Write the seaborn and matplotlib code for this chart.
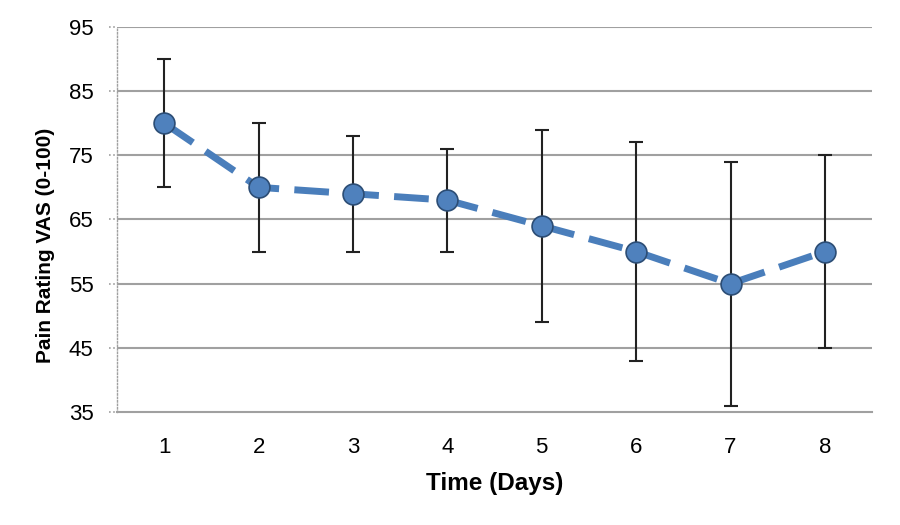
import matplotlib
matplotlib.use("Agg")
import matplotlib.pyplot as plt
import seaborn as sns
import numpy as np
import pandas as pd

days = [1, 2, 3, 4, 5, 6, 7, 8]
pain_mean = [80, 70, 69, 68, 64, 60, 55, 60]
pain_low = [70, 60, 60, 60, 49, 43, 36, 45]
pain_high = [90, 80, 78, 76, 79, 77, 74, 75]
y_ticks = [35, 45, 55, 65, 75, 85, 95]

df = pd.DataFrame({"day": days, "pain": pain_mean})

sns.set_style("white")
plt.rcParams["font.family"] = ["Liberation Sans", "DejaVu Sans"]
plt.rcParams["text.color"] = "black"
plt.rcParams["xtick.color"] = "black"
plt.rcParams["ytick.color"] = "black"
plt.rcParams["axes.labelcolor"] = "black"

fig = plt.figure(figsize=(9, 5.25), dpi=100)
ax = fig.add_axes([0.13, 0.215, 0.839, 0.734])

grid_col = "#a0a0a0"
for t in y_ticks[1:]:
    ax.axhline(t, color=grid_col, lw=1.5, zorder=0)

lo = np.array(pain_mean) - np.array(pain_low)
hi = np.array(pain_high) - np.array(pain_mean)
ax.errorbar(days, pain_mean, yerr=[lo, hi], fmt="none", ecolor="#222222",
            elinewidth=1.5, capsize=5, capthick=1.5, zorder=2)

sns.lineplot(data=df, x="day", y="pain", ax=ax, color="#4a7ebb", lw=5,
             marker="o", markersize=15, markerfacecolor="#4f81bd",
             markeredgecolor="#2c4d75", markeredgewidth=1.2, zorder=3)
ax.lines[-1].set_dashes([5, 2.2])

ax.set_xlim(0.5, 8.5)
ax.set_ylim(35, 95)
ax.set_yticks(y_ticks)
ax.set_xticks(np.arange(0.5, 9, 1))
ax.set_xticklabels([])
ax.set_xticks(days, minor=True)
ax.set_xticklabels([str(d) for d in days], minor=True, fontsize=16)
ax.tick_params(axis="x", which="major", length=7, width=1.5, color=grid_col, direction="out")
ax.tick_params(axis="x", which="minor", length=0, pad=18)
ax.tick_params(axis="y", length=0, labelsize=16, pad=17)
for t in y_ticks:
    ax.plot([-0.011, 0], [t, t], transform=ax.get_yaxis_transform(), color=grid_col,
            lw=1.2, ls=(0, (1, 1.5)), clip_on=False)

for s in ["top", "right"]:
    ax.spines[s].set_visible(False)
ax.spines["bottom"].set_color(grid_col)
ax.spines["bottom"].set_linewidth(1.5)
ax.spines["left"].set_color(grid_col)
ax.spines["left"].set_linewidth(1)
ax.spines["left"].set_linestyle((0, (1, 1.5)))

ax.set_xlabel("Time (Days)", fontsize=17.5, fontweight="bold", labelpad=10)
ax.set_ylabel("Pain Rating VAS (0-100)", fontsize=15, fontweight="bold")
ax.yaxis.set_label_coords(-0.082, 0.434)

fig.savefig("out.png", dpi=100)
